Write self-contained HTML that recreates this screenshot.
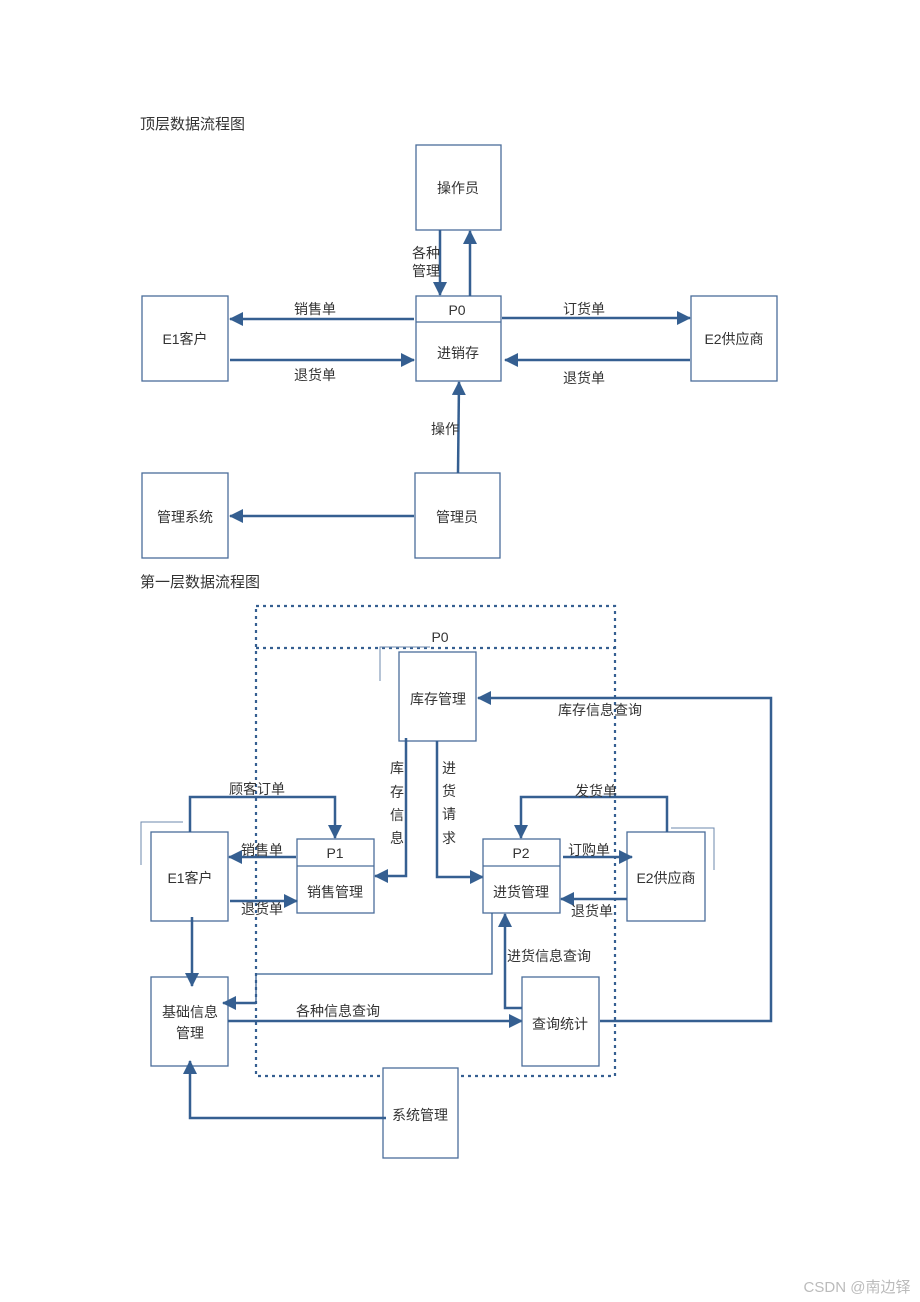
<!DOCTYPE html>
<html><head><meta charset="utf-8"><style>
html,body{margin:0;padding:0;background:#fff;}
svg{display:block;}
text{font-family:"Liberation Sans","Noto Sans CJK SC",sans-serif;font-size:14px;fill:#333;}
.b{fill:#fff;stroke:#4a6d9a;stroke-width:1.3;}
.l{fill:none;stroke:#355f91;stroke-width:2.5;}
.a{fill:#355f91;}
</style></head><body>
<svg width="920" height="1302" viewBox="0 0 920 1302">
<defs><marker id="m" markerWidth="8" markerHeight="8" refX="6.5" refY="4" orient="auto" markerUnits="userSpaceOnUse" viewBox="0 0 8 8"><path d="M0,0 L8,4 L0,8 z" fill="#355f91"/></marker>
<marker id="M" markerWidth="14" markerHeight="14" refX="13" refY="7" orient="auto" markerUnits="userSpaceOnUse" viewBox="0 0 14 14"><path d="M0,0 L14,7 L0,14 z" fill="#355f91"/></marker></defs>

<text x="140" y="129" style="font-size:15px">顶层数据流程图</text>
<rect class="b" x="416" y="145" width="85" height="85"/><text x="458" y="193" text-anchor="middle">操作员</text>
<rect class="b" x="416" y="296" width="85" height="85"/><line x1="416" y1="322" x2="501" y2="322" stroke="#4a6d9a" stroke-width="1.3"/>
<text x="457" y="315" text-anchor="middle">P0</text><text x="458" y="358" text-anchor="middle">进销存</text>
<rect class="b" x="142" y="296" width="86" height="85"/><text x="185" y="344" text-anchor="middle">E1客户</text>
<rect class="b" x="691" y="296" width="86" height="85"/><text x="734" y="344" text-anchor="middle">E2供应商</text>
<rect class="b" x="142" y="473" width="86" height="85"/><text x="185" y="522" text-anchor="middle">管理系统</text>
<rect class="b" x="415" y="473" width="85" height="85"/><text x="457" y="522" text-anchor="middle">管理员</text>

<line class="l" x1="440" y1="230" x2="440" y2="295" marker-end="url(#M)"/>
<line class="l" x1="470" y1="296" x2="470" y2="231" marker-end="url(#M)"/>
<text x="426" y="258" text-anchor="middle">各种</text><text x="426" y="276" text-anchor="middle">管理</text>
<line class="l" x1="414" y1="319" x2="230" y2="319" marker-end="url(#M)"/><text x="315" y="314" text-anchor="middle">销售单</text>
<line class="l" x1="230" y1="360" x2="414" y2="360" marker-end="url(#M)"/><text x="315" y="380" text-anchor="middle">退货单</text>
<line class="l" x1="502" y1="318" x2="690" y2="318" marker-end="url(#M)"/><text x="584" y="314" text-anchor="middle">订货单</text>
<line class="l" x1="690" y1="360" x2="505" y2="360" marker-end="url(#M)"/><text x="584" y="383" text-anchor="middle">退货单</text>
<line class="l" x1="458" y1="473" x2="459" y2="382" marker-end="url(#M)"/><text x="445" y="434" text-anchor="middle">操作</text>
<line class="l" x1="414" y1="516" x2="230" y2="516" marker-end="url(#M)"/>

<text x="140" y="587" style="font-size:15px">第一层数据流程图</text>
<rect x="256" y="606" width="359" height="470" fill="none" stroke="#355f91" stroke-width="2.2" stroke-dasharray="3,4"/>
<line x1="256" y1="648" x2="615" y2="648" stroke="#355f91" stroke-width="2.2" stroke-dasharray="3,4"/>
<text x="440" y="642" text-anchor="middle">P0</text>
<polyline points="380,681 380,647 430,647" fill="none" stroke="#6d88ad" stroke-width="1"/>
<rect class="b" x="399" y="652" width="77" height="89"/><text x="438" y="704" text-anchor="middle">库存管理</text>

<polyline class="l" points="600,1021 771,1021 771,698 478,698" marker-end="url(#M)"/>
<text x="600" y="715" text-anchor="middle">库存信息查询</text>
<polyline class="l" points="406,738 406,876 375,876" marker-end="url(#M)"/>
<text x="397" y="773" text-anchor="middle">库</text><text x="397" y="797" text-anchor="middle">存</text><text x="397" y="820" text-anchor="middle">信</text><text x="397" y="832" dy="11" text-anchor="middle">息</text>
<polyline class="l" points="437,741 437,877 483,877" marker-end="url(#M)"/>
<text x="449" y="773" text-anchor="middle">进</text><text x="449" y="796" text-anchor="middle">货</text><text x="449" y="819" text-anchor="middle">请</text><text x="449" y="832" dy="11" text-anchor="middle">求</text>

<rect class="b" x="297" y="839" width="77" height="74"/><line x1="297" y1="866" x2="374" y2="866" stroke="#4a6d9a" stroke-width="1.3"/>
<text x="335" y="858" text-anchor="middle">P1</text><text x="335" y="897" text-anchor="middle">销售管理</text>
<rect class="b" x="483" y="839" width="77" height="74"/><line x1="483" y1="866" x2="560" y2="866" stroke="#4a6d9a" stroke-width="1.3"/>
<text x="521" y="858" text-anchor="middle">P2</text><text x="521" y="897" text-anchor="middle">进货管理</text>
<polyline points="141,865 141,822 183,822" fill="none" stroke="#6d88ad" stroke-width="1"/>
<rect class="b" x="151" y="832" width="77" height="89"/><text x="190" y="883" text-anchor="middle">E1客户</text>
<polyline points="671,828 714,828 714,870" fill="none" stroke="#6d88ad" stroke-width="1"/>
<rect class="b" x="627" y="832" width="78" height="89"/><text x="666" y="883" text-anchor="middle">E2供应商</text>

<polyline class="l" points="190,832 190,797 335,797 335,838" marker-end="url(#M)"/><text x="257" y="794" text-anchor="middle">顾客订单</text>
<line class="l" x1="296" y1="857" x2="229" y2="857" marker-end="url(#M)"/><text x="262" y="855" text-anchor="middle">销售单</text>
<line class="l" x1="230" y1="901" x2="297" y2="901" marker-end="url(#M)"/><text x="262" y="914" text-anchor="middle">退货单</text>
<polyline class="l" points="667,832 667,797 521,797 521,838" marker-end="url(#M)"/><text x="596" y="796" text-anchor="middle">发货单</text>
<line class="l" x1="563" y1="857" x2="632" y2="857" marker-end="url(#M)"/><text x="589" y="855" text-anchor="middle">订购单</text>
<line class="l" x1="627" y1="899" x2="561" y2="899" marker-end="url(#M)"/><text x="592" y="916" text-anchor="middle">退货单</text>

<rect class="b" x="151" y="977" width="77" height="89"/><text x="190" y="1017" text-anchor="middle">基础信息</text><text x="190" y="1038" text-anchor="middle">管理</text>
<line class="l" x1="192" y1="917" x2="192" y2="986" marker-end="url(#M)"/>
<polyline points="492,913 492,974 256,974 256,1003" fill="none" stroke="#355f91" stroke-width="1.3"/>
<line class="l" x1="256" y1="1003" x2="223" y2="1003" marker-end="url(#M)"/>
<line class="l" x1="228" y1="1021" x2="522" y2="1021" marker-end="url(#M)"/><text x="338" y="1016" text-anchor="middle">各种信息查询</text>
<rect class="b" x="522" y="977" width="77" height="89"/><text x="560" y="1029" text-anchor="middle">查询统计</text>
<polyline class="l" points="522,1008 505,1008 505,914" marker-end="url(#M)"/><text x="549" y="961" text-anchor="middle">进货信息查询</text>
<rect class="b" x="383" y="1068" width="75" height="90"/><text x="420" y="1120" text-anchor="middle">系统管理</text>
<polyline class="l" points="386,1118 190,1118 190,1061" marker-end="url(#M)"/>

<text x="857" y="1292" text-anchor="middle" style="font-size:15px;fill:#bbb">CSDN @南边铎</text>
</svg>
</body></html>
